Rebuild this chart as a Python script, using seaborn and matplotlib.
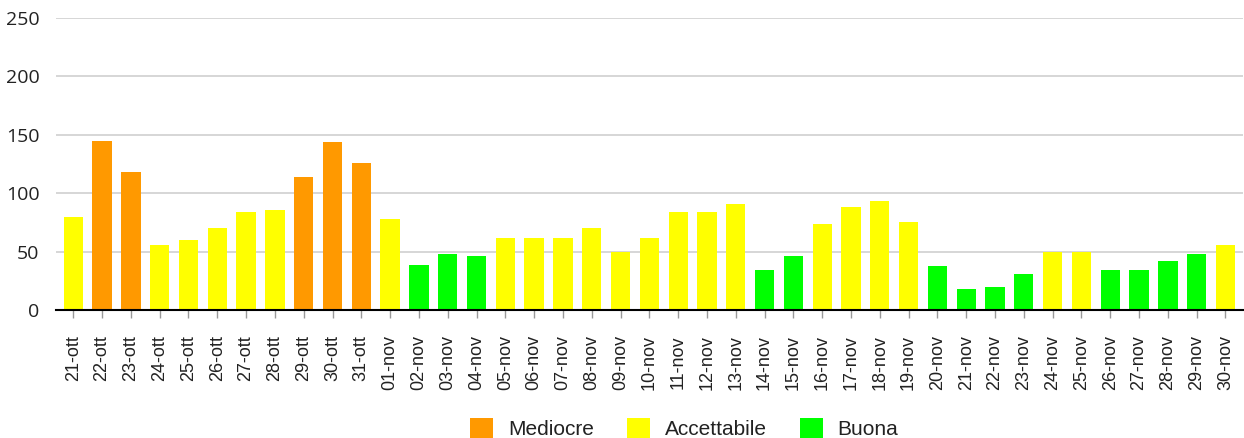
import pandas as pd
import matplotlib.pyplot as plt
import seaborn as sns
from matplotlib.patches import Patch

#data
dates = ['21-ott', '22-ott', '23-ott', '24-ott', '25-ott', '26-ott', '27-ott', '28-ott', '29-ott', '30-ott', '31-ott',
         '01-nov', '02-nov', '03-nov', '04-nov', '05-nov', '06-nov', '07-nov', '08-nov', '09-nov', '10-nov',
         '11-nov', '12-nov', '13-nov', '14-nov', '15-nov', '16-nov', '17-nov', '18-nov', '19-nov', '20-nov',
         '21-nov', '22-nov', '23-nov', '24-nov', '25-nov', '26-nov', '27-nov', '28-nov', '29-nov', '30-nov']
values = [80, 145, 118, 56, 60, 70, 84, 86, 114, 144, 126,
          78, 39, 48, 46, 62, 62, 62, 70, 50, 62,
          84, 84, 91, 34, 46, 74, 88, 93, 75, 38,
          18, 20, 31, 50, 50, 34, 34, 42, 48, 56]
quality = ['Accettabile', 'Mediocre', 'Mediocre', 'Accettabile', 'Accettabile', 'Accettabile', 'Accettabile',
           'Accettabile', 'Mediocre', 'Mediocre', 'Mediocre',
           'Accettabile', 'Buona', 'Buona', 'Buona', 'Accettabile', 'Accettabile', 'Accettabile', 'Accettabile',
           'Accettabile', 'Accettabile',
           'Accettabile', 'Accettabile', 'Accettabile', 'Buona', 'Buona', 'Accettabile', 'Accettabile',
           'Accettabile', 'Accettabile', 'Buona',
           'Buona', 'Buona', 'Buona', 'Accettabile', 'Accettabile', 'Buona', 'Buona', 'Buona', 'Buona',
           'Accettabile']
levels = ['Mediocre', 'Accettabile', 'Buona']
colors = {'Mediocre': '#ff9900', 'Accettabile': '#ffff00', 'Buona': '#00ff00'}

df = pd.DataFrame({'data': dates, 'valore': values, 'qualita': quality})

sns.set_style('white')
plt.rcParams['font.family'] = ['Liberation Sans', 'DejaVu Sans']

fig = plt.figure(figsize=(12.44, 4.38), dpi=100)
ax = fig.add_axes([0.045, 0.292, 0.954, 0.667])

sns.barplot(data=df, x='data', y='valore', hue='qualita', hue_order=levels, palette=colors,
            saturation=1, dodge=False, width=0.67, legend=False, ax=ax, edgecolor='none', zorder=3)

ax.set_xlim(-0.6, len(dates) - 0.4)
ax.set_ylim(0, 250)
ax.set_yticks(range(0, 251, 50))
ax.grid(axis='y', color='#d0d0d0', linewidth=1.2, zorder=0)
ax.set_xlabel('')
ax.set_ylabel('')
for s in ['top', 'right', 'left']:
    ax.spines[s].set_visible(False)
ax.spines['bottom'].set_color('black')
ax.spines['bottom'].set_linewidth(1.5)
ax.spines['bottom'].set_zorder(4)

ax.tick_params(axis='x', rotation=90, labelsize=13, length=6, color='#999999', width=1, pad=12,
               labelcolor='#222222', bottom=True)
ax.tick_params(axis='y', labelsize=14, length=0, pad=12, labelcolor='#222222')
for t in ax.get_yticklabels():
    t.set_family('Open Sans')

#legend at the bottom
handles = [Patch(facecolor=colors[l], edgecolor='none', label=l) for l in levels]
fig.legend(handles=handles, loc='lower center', bbox_to_anchor=(0.55, -0.045), ncol=3, frameon=False,
           fontsize=15, handlelength=1.1, handleheight=1.1, columnspacing=1.6, handletextpad=0.7,
           labelcolor='#222222')

fig.savefig('out.png', dpi=100)
